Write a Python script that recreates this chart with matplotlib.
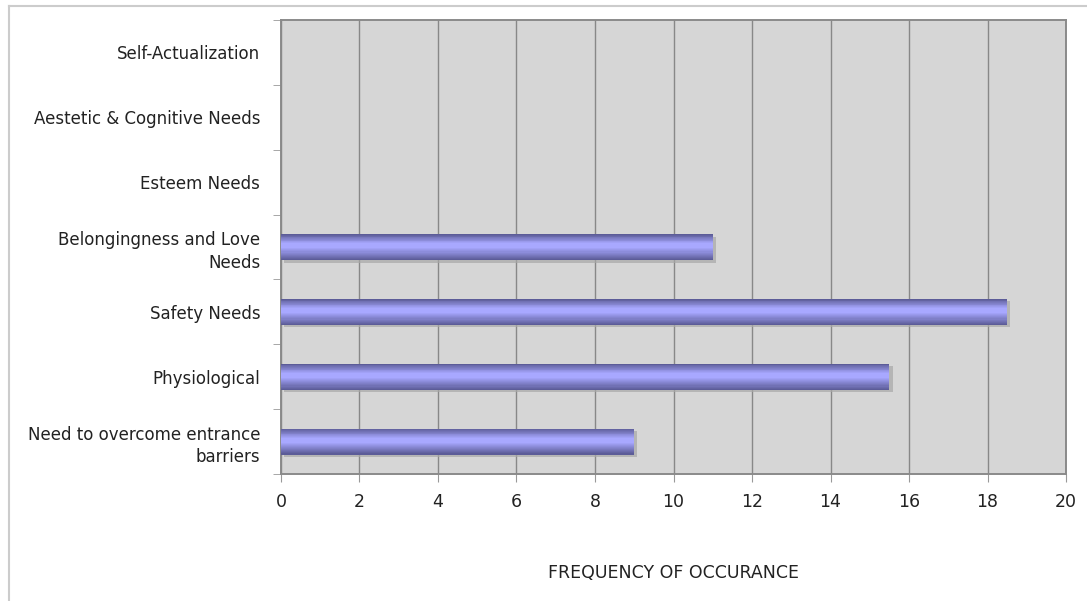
import numpy as np
import matplotlib.pyplot as plt
from matplotlib.lines import Line2D

# data (bottom to top)
categories = ["Need to overcome entrance\nbarriers", "Physiological", "Safety Needs",
              "Belongingness and Love\nNeeds", "Esteem Needs",
              "Aestetic & Cognitive Needs", "Self-Actualization"]
values = [9, 15.5, 18.5, 11, 0, 0, 0]
xticks = [0, 2, 4, 6, 8, 10, 12, 14, 16, 18, 20]

plt.rcParams['font.family'] = ['DejaVu Sans']

fig = plt.figure(figsize=(10.87, 6.01), dpi=100)
ax = fig.add_axes([0.2585, 0.2113, 0.7222, 0.7554])
ax.set_facecolor('#d6d6d6')

y = np.arange(len(categories))
h = 0.40

# shadow
ax.barh(y - 0.04, values, height=h, left=0.08, color='#a8a8a8', alpha=0.7, zorder=2)

# gradient: dark outer band -> light centre
dark = np.array([0x5c, 0x5c, 0x98]) / 255
light = np.array([0xa8, 0xa8, 0xff]) / 255
n = 12
for i in range(n):
    t = i / (n - 1)
    frac = 1 - 0.8 * t
    col = dark * (1 - t) + light * t
    ax.barh(y + 0.02 * t, values, height=h * frac, color=col, zorder=3 + i)

ax.set_xlim(0, 20)
ax.set_ylim(-0.5, len(categories) - 0.5)
ax.set_xticks(xticks)
ax.set_xticklabels([str(v) for v in xticks], fontsize=12.5, color='#222222')
ax.set_yticks(y)
ax.set_yticklabels(categories, fontsize=12, color='#222222', ha='right',
                   multialignment='right', linespacing=1.35)
ax.set_yticks(np.arange(-0.5, len(categories), 1), minor=True)
ax.tick_params(axis='y', which='major', length=0, pad=15)
ax.tick_params(axis='y', which='minor', length=6, color='#999999', direction='out')
ax.tick_params(axis='x', length=6, color='#999999', direction='out', pad=8)

ax.grid(axis='x', color='#888888', linewidth=1.0, zorder=1)
ax.set_axisbelow(True)
for s in ax.spines.values():
    s.set_color('#8a8a8a')
    s.set_linewidth(1.4)

ax.set_xlabel("FREQUENCY OF OCCURANCE", fontsize=12.5, color='#222222', labelpad=38)

# outer frame of the chart
fig.add_artist(Line2D([9 / 1087, 9 / 1087], [0, 1 - 6 / 601], color='#cccccc', lw=1.5))
fig.add_artist(Line2D([9 / 1087, 1], [1 - 6 / 601, 1 - 6 / 601], color='#cccccc', lw=1.5))

fig.savefig('out.png', dpi=100)
